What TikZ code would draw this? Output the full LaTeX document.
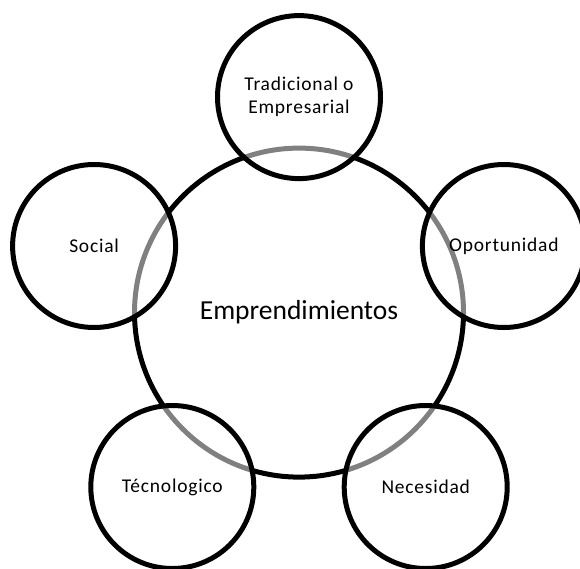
\documentclass[tikz,border=0pt]{standalone}
\usepackage{fontspec}
\setmainfont{Carlito}
\newfontfamily\labelfont{Carlito}[LetterSpace=4]
\begin{document}
\begin{tikzpicture}[x=1pt,y=-1pt,
  bigc/.style={circle,draw=black,line width=5pt,minimum size=329pt,inner sep=0pt,
    font=\fontsize{27.5}{32}\selectfont},
  smallc/.style={circle,draw=black,line width=5pt,minimum size=163pt,inner sep=0pt,
    fill=white,fill opacity=0.5,text opacity=1,align=center,
    font=\labelfont\fontsize{19.5}{23}\selectfont}]
\useasboundingbox (0,0) rectangle (580,568);
\node[bigc] (center) at (299,312.6) {};
\node[smallc] (trad) at (299,97.1) {Tradicional o\\Empresarial};
\node[smallc] (opor) at (503.9,246) {Oportunidad};
\node[smallc] (nece) at (425.7,487) {Necesidad};
\node[smallc] (tecn) at (172.3,487) {Técnologico};
\node[smallc] (soci) at (94.1,246) {Social};
\node[font=\fontsize{27.5}{32}\selectfont] (ctext) at (center) {Emprendimientos};
\end{tikzpicture}
\end{document}
